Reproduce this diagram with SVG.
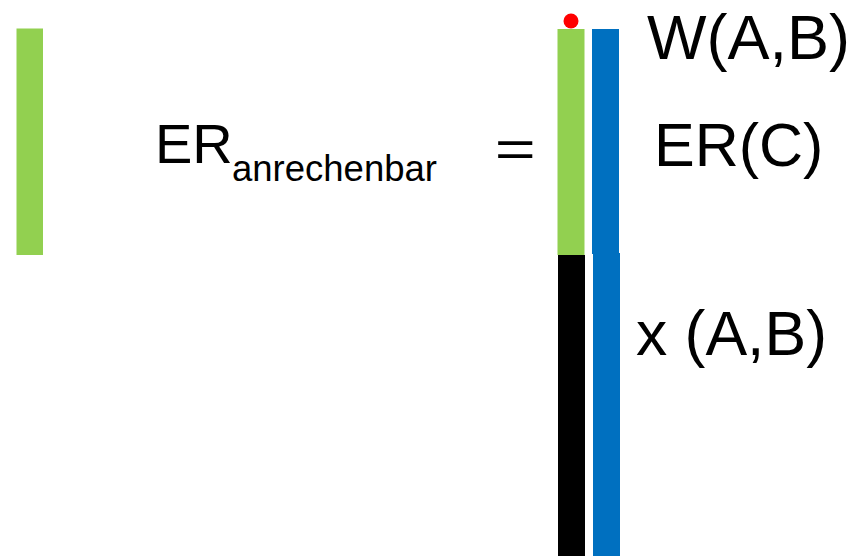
<svg xmlns="http://www.w3.org/2000/svg" width="856" height="556" viewBox="0 0 856 556">
<style>
text{font-family:"Liberation Sans",Arial,sans-serif;fill:#000}
.green{fill:#92d050}
.blue{fill:#0070c0}
</style>
<rect width="856" height="556" fill="#fff"/>
<g id="bar-left"><rect class="green" x="16.5" y="28.5" width="26.5" height="226.5"/></g>
<g id="bar-er-green"><rect class="green" x="557.5" y="29" width="27" height="226"/></g>
<g id="bar-x-black"><rect x="558" y="255" width="27" height="301" fill="#000"/></g>
<g id="bar-blue-top"><rect class="blue" x="592" y="29" width="27" height="225"/></g>
<g id="bar-blue-bottom"><rect class="blue" x="593" y="253" width="27" height="303"/></g>
<g id="dot"><circle cx="571" cy="21" r="7.5" fill="#ff0000"/></g>
<g id="label-w"><text x="647" y="59" font-size="63">W(A,B)</text></g>
<g id="label-erc"><text x="654" y="166" font-size="61">ER(C)</text></g>
<g id="label-x"><text x="636" y="355" font-size="62.5">x (A,B)</text></g>
<g id="label-eq"><text x="155" y="163" font-size="56">ER</text><text x="232" y="181" font-size="36.5">anrechenbar</text><text transform="translate(498,167) scale(1.35,1)" x="-2.5" y="0" font-size="52">=</text></g>
</svg>
